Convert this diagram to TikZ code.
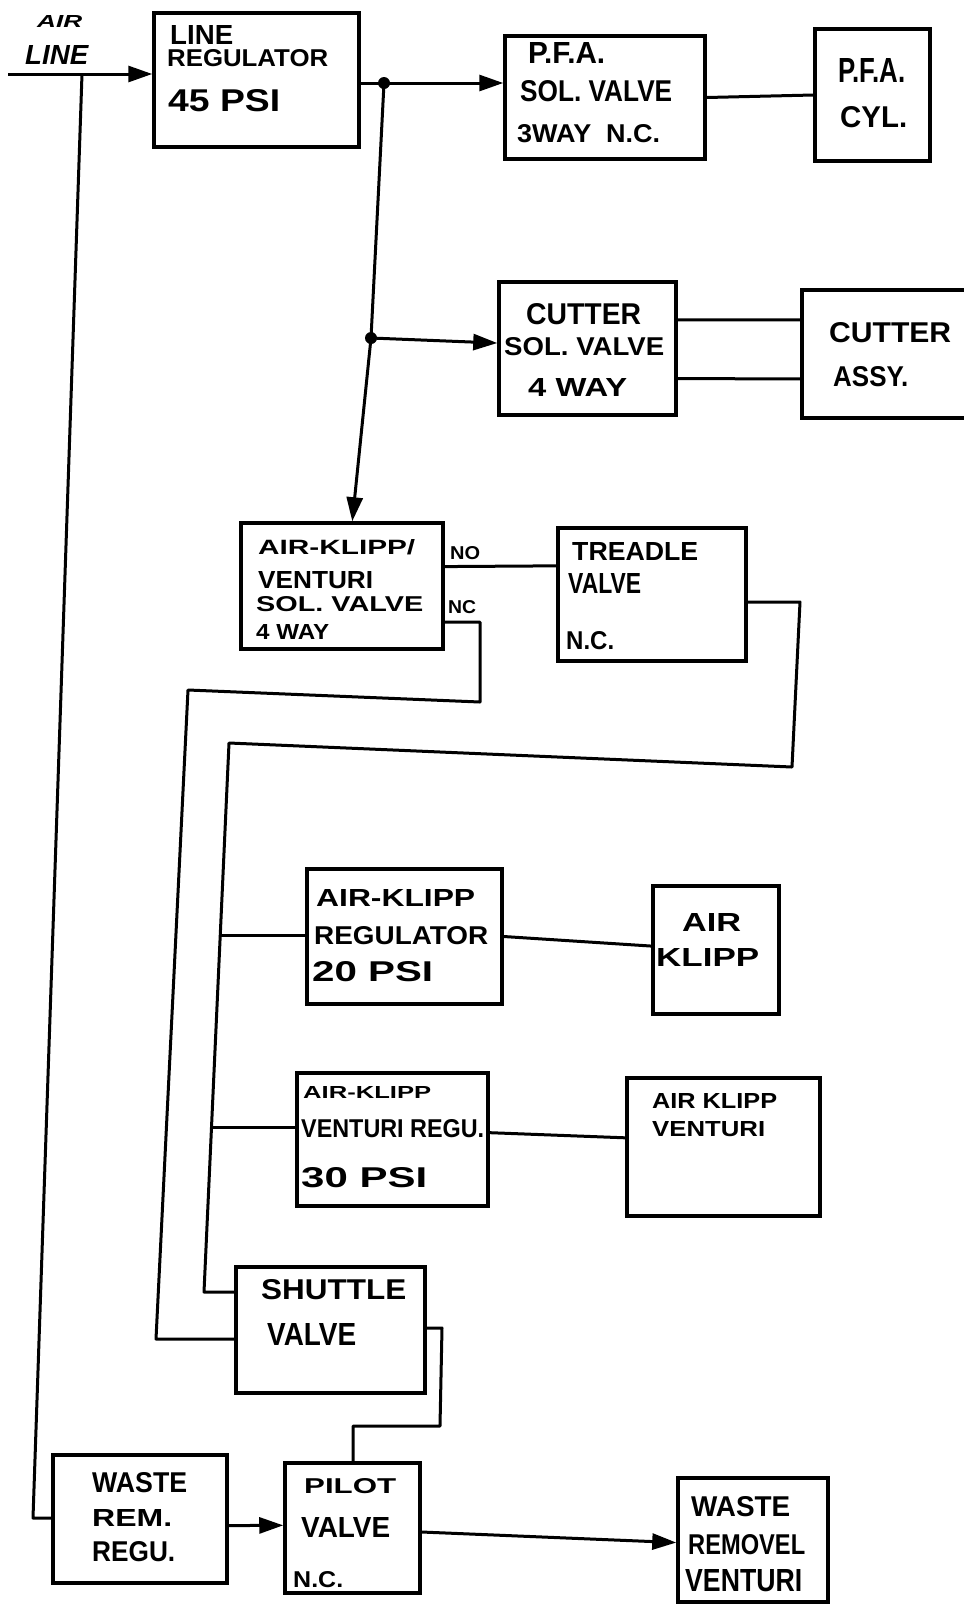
\documentclass[tikz,border=0pt]{standalone}
\usepackage{fontspec}
\usepackage{graphicx}
\newfontfamily\hand{Liberation Sans}
\usetikzlibrary{arrows.meta,fit,calc}
\newcommand\hw[3]{\resizebox{#1pt}{#2pt}{\hand\bfseries #3}}
\newcommand\hwi[3]{\resizebox{#1pt}{#2pt}{\hand\bfseries\itshape #3}}
\begin{document}
\begin{tikzpicture}[x=1pt,y=-1pt,
  box/.style={draw, line width=3.5pt, inner sep=0pt},
  wire/.style={line width=3pt, line join=round},
  arr/.style={wire, -{Triangle[length=24pt 0 0,width=16pt 0 0]}},
  txt/.style={inner sep=0pt, anchor=west},
  jdot/.style={circle, fill, inner sep=0pt, minimum size=12pt}]
\useasboundingbox[fill=white] (0,0) rectangle (964,1607);

% boxes
\node[box, fit={(154,13) (359,147)}] (lr) {};
\node[box, fit={(505,36) (705,159)}] (pfa) {};
\node[box, fit={(815,29) (930,161)}] (cyl) {};
\node[box, fit={(499,282) (676,415)}] (cut) {};
\node[box, fit={(802,290) (990,418)}] (assy) {};
\node[box, fit={(241,523) (443,649)}] (akv) {};
\node[box, fit={(558,528) (746,661)}] (tre) {};
\node[box, fit={(307,869) (502,1004)}] (akr) {};
\node[box, fit={(653,886) (779,1014)}] (ak) {};
\node[box, fit={(297,1073) (488,1206)}] (akvr) {};
\node[box, fit={(627,1078) (820,1216)}] (akven) {};
\node[box, fit={(236,1267) (425,1393)}] (shut) {};
\node[box, fit={(53,1455) (227,1583)}] (wrr) {};
\node[box, fit={(285,1463) (420,1593)}] (pil) {};
\node[box, fit={(678,1478) (828,1602)}] (wrv) {};

% texts
\node[txt] (al1) at (37,21) {\hwi{45}{12}{AIR}};
\node[txt] (al2) at (25,55) {\hwi{63}{19}{LINE}};
\node[txt] (lr1) at (170,35) {\hw{63}{19}{LINE}};
\node[txt] (lr2) at (167,58) {\hw{161}{17}{REGULATOR}};
\node[txt] (lr3) at (168,101) {\hw{112}{22}{45 PSI}};
\node[txt] (pf1) at (528,53) {\hw{77}{21}{P.F.A.}};
\node[txt] (pf2) at (520,91) {\hw{152}{21}{SOL. VALVE}};
\node[txt] (pf3) at (517,134) {\hw{143}{18}{3WAY~~N.C.}};
\node[txt] (cy1) at (838,70) {\hw{67}{24}{P.F.A.}};
\node[txt] (cy2) at (840,117) {\hw{67}{21}{CYL.}};
\node[txt] (cu1) at (526,314) {\hw{115}{21}{CUTTER}};
\node[txt] (cu2) at (504,347) {\hw{160}{18}{SOL. VALVE}};
\node[txt] (cu3) at (528,387) {\hw{99}{18}{4 WAY}};
\node[txt] (as1) at (829,333) {\hw{122}{20}{CUTTER}};
\node[txt] (as2) at (833,377) {\hw{75}{20}{ASSY.}};
\node[txt] (av1) at (258,547) {\hw{157}{15}{AIR-KLIPP/}};
\node[txt] (av2) at (258,580) {\hw{115}{17}{VENTURI}};
\node[txt] (av3) at (256,604) {\hw{167}{15}{SOL. VALVE}};
\node[txt] (av4) at (256,632) {\hw{73}{15}{4 WAY}};
\node[txt] (no) at (450,553) {\hw{30}{13}{NO}};
\node[txt] (nc) at (448,607) {\hw{28}{13}{NC}};
\node[txt] (tr1t) at (572,551) {\hw{126}{18}{TREADLE}};
\node[txt] (tr2t) at (568,583) {\hw{73}{20}{VALVE}};
\node[txt] (tr3t) at (566,641) {\hw{48}{18}{N.C.}};
\node[txt] (kr1) at (316,898) {\hw{159}{17}{AIR-KLIPP}};
\node[txt] (kr2) at (314,936) {\hw{174}{18}{REGULATOR}};
\node[txt] (kr3) at (312,972) {\hw{121}{20}{20 PSI}};
\node[txt] (ak1) at (682,922) {\hw{59}{18}{AIR}};
\node[txt] (ak2) at (656,957) {\hw{103}{18}{KLIPP}};
\node[txt] (vr1) at (303,1092) {\hw{128}{12}{AIR-KLIPP}};
\node[txt] (vr2) at (301,1129) {\hw{183}{18}{VENTURI REGU.}};
\node[txt] (vr3) at (301,1178) {\hw{126}{20}{30 PSI}};
\node[txt] (ve1) at (652,1101) {\hw{125}{15}{AIR KLIPP}};
\node[txt] (ve2) at (652,1129) {\hw{113}{15}{VENTURI}};
\node[txt] (sh1) at (261,1290) {\hw{145}{20}{SHUTTLE}};
\node[txt] (sh2) at (267,1334) {\hw{89}{22}{VALVE}};
\node[txt] (wr1) at (92,1483) {\hw{95}{20}{WASTE}};
\node[txt] (wr2) at (92,1518) {\hw{80}{17}{REM.}};
\node[txt] (wr3) at (92,1552) {\hw{83}{20}{REGU.}};
\node[txt] (pl1) at (304,1486) {\hw{92}{15}{PILOT}};
\node[txt] (pl2) at (301,1527) {\hw{89}{20}{VALVE}};
\node[txt] (pl3) at (293,1580) {\hw{50}{16}{N.C.}};
\node[txt] (wv1) at (691,1507) {\hw{99}{20}{WASTE}};
\node[txt] (wv2) at (688,1545) {\hw{117}{20}{REMOVEL}};
\node[txt] (wv3) at (685,1581) {\hw{117}{22}{VENTURI}};

% connectors
\coordinate (ain) at (8,74);
\draw[arr] (ain) -- (ain -| lr.west);
\coordinate (ltop) at (82,74);
\coordinate (lbot) at (33,1518);
\draw[wire] (ltop) -- (lbot) -- (lbot -| wrr.west);

\coordinate (j1) at (384,83);
\coordinate (j2) at (371,338);
\draw[arr] (j1 -| lr.east) -- (j1 -| pfa.west);
\draw[arr] (j1) -- (j2) -- ($(akv.north west)!0.55!(akv.north east)$);
\draw[arr] (j2) -- ($(cut.north west)!0.46!(cut.south west)$);
\node[jdot] (d1) at (j1) {};
\node[jdot] (d2) at (j2) {};

\draw[wire] (pfa.east) -- (cyl.west);
\draw[wire] ($(cut.north east)!0.29!(cut.south east)$) -- ($(assy.north west)!0.24!(assy.south west)$);
\draw[wire] ($(cut.north east)!0.72!(cut.south east)$) -- ($(assy.north west)!0.69!(assy.south west)$);

\draw[wire] ($(akv.north east)!0.35!(akv.south east)$) -- ($(tre.north west)!0.29!(tre.south west)$);

\coordinate (nc1) at (480,622);
\coordinate (nc2) at (480,702);
\coordinate (nc3) at (188,690);
\coordinate (nc4) at (156,1339);
\draw[wire] (nc1 -| akv.east) -- (nc1) -- (nc2) -- (nc3) -- (nc4) -- (nc4 -| shut.west);

\coordinate (tp1) at (800,602);
\coordinate (tp2) at (792,767);
\coordinate (tp3) at (229,743);
\coordinate (tp4) at (204,1292);
\draw[wire] (tp1 -| tre.east) -- (tp1) -- (tp2) -- (tp3) -- (tp4) -- (tp4 -| shut.west);
\coordinate (b1) at ($(tp3)!0.35!(tp4)$);
\coordinate (b2) at ($(tp3)!0.70!(tp4)$);
\draw[wire] (b1) -- (b1 -| akr.west);
\draw[wire] (b2) -- (b2 -| akvr.west);

\draw[wire] ($(akr.north east)!0.50!(akr.south east)$) -- ($(ak.north west)!0.47!(ak.south west)$);
\draw[wire] ($(akvr.north east)!0.45!(akvr.south east)$) -- ($(akven.north west)!0.435!(akven.south west)$);

\coordinate (s1) at (442,1328);
\coordinate (s2) at (440,1426);
\coordinate (s3) at (353,1426);
\draw[wire] (s1 -| shut.east) -- (s1) -- (s2) -- (s3) -- (s3 |- pil.north);

\draw[arr] ($(wrr.north east)!0.55!(wrr.south east)$) -- ($(pil.north west)!0.48!(pil.south west)$);
\draw[arr] ($(pil.north east)!0.53!(pil.south east)$) -- ($(wrv.north west)!0.52!(wrv.south west)$);
\end{tikzpicture}
\end{document}
